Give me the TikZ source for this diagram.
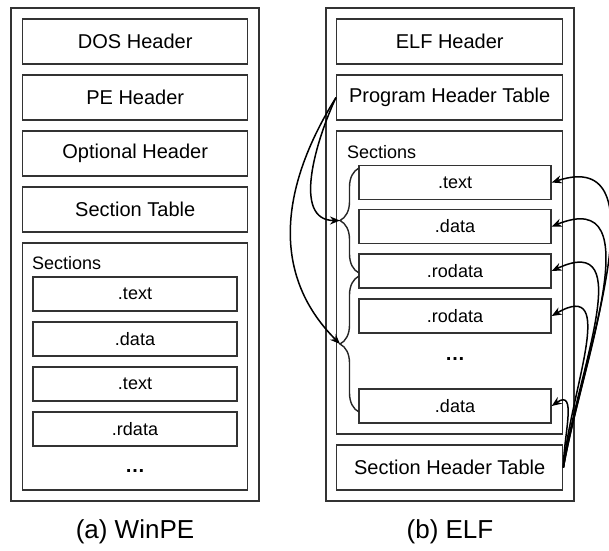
\documentclass[tikz,border=0pt]{standalone}
\usepackage{fontspec}
\setmainfont{Liberation Sans}
\usetikzlibrary{arrows.meta, decorations.pathreplacing}

\begin{document}
\begin{tikzpicture}[x=1pt, y=-1pt,
  frame/.style={draw=black!80, line width=1.4pt, rectangle, inner sep=0pt},
  hdr/.style={frame, minimum height=45pt, font=\fontsize{20}{24}\selectfont},
  sec/.style={frame, minimum height=34pt, font=\fontsize{18}{22}\selectfont},
  lbl/.style={font=\fontsize{18}{22}\selectfont, inner sep=0pt},
  dots/.style={font=\fontsize{20}{24}\selectfont\bfseries, inner sep=0pt},
  figcap/.style={font=\fontsize{26}{30}\selectfont, inner sep=0pt},
  link/.style={line width=1.5pt, -{Stealth[length=10pt,width=8pt]}},
  grp/.style={draw=black!85, line width=1.4pt, decorate, decoration={brace, amplitude=19pt}}
]
\useasboundingbox (0,0) rectangle (609,550);

% ---------- WinPE layout ----------
\node[frame, minimum width=248pt, minimum height=493pt] (pe) at (135,254.5) {};
\node[hdr, minimum width=225pt] (dos) at (135.2,41.5) {DOS Header};
\node[hdr, minimum width=225pt] (peh) at (135.2,97.5) {PE Header};
\node[hdr, minimum width=225pt] (opt) at (135.2,153.5) {Optional Header};
\node[hdr, minimum width=225pt] (st) at (135.2,209.5) {Section Table};
\node[frame, minimum width=225pt, minimum height=247pt] (pesec) at (135.2,366.5) {};
\node[lbl, anchor=base west] (pesecl) at (32,269.5) {Sections};
\node[sec, minimum width=204pt] (pa) at (135,294) {.text};
\node[sec, minimum width=204pt] (pb) at (135,339) {.data};
\node[sec, minimum width=204pt] (pc) at (135,384) {.text};
\node[sec, minimum width=204pt] (pd) at (135,429) {.rdata};
\node[dots] (pdots) at (135,471) {\ldots};
\node[figcap] (capa) at (135,532) {(a) WinPE};

% ---------- ELF layout ----------
\node[frame, minimum width=248pt, minimum height=493pt] (elf) at (450,254.5) {};
\node[hdr, minimum width=226pt] (eh) at (449.7,41.5) {ELF Header};
\node[hdr, minimum width=226pt] (pht) at (449.7,97.5) {Program Header Table};
\node[frame, minimum width=226pt, minimum height=303pt] (esec) at (449.7,282.5) {};
\node[lbl, anchor=base west] (esecl) at (347,158) {Sections};
\node[hdr, minimum width=226pt] (sht) at (449.7,467.5) {Section Header Table};
\node[sec, minimum width=192pt] (ea) at (455,182.5) {.text};
\node[sec, minimum width=192pt] (eb) at (455,226.5) {.data};
\node[sec, minimum width=192pt] (ec) at (455,271) {.rodata};
\node[sec, minimum width=192pt] (ed) at (455,316) {.rodata};
\node[dots] (edots) at (455,359) {\ldots};
\node[sec, minimum width=192pt] (ee) at (455,406) {.data};
\node[figcap] (capb) at (450,532) {(b) ELF};

% segments grouped by the program header table
\draw[grp] (359,273) -- (359,168);
\draw[grp] (359,412) -- (359,276);
\coordinate (g1) at (340,220.5);
\coordinate (g2) at (340,344);

\draw[link] (pht.west) to[out=245, in=180, looseness=1.0] (g1);
\draw[link] (pht.west) to[out=238, in=135, looseness=1.05] (g2);

% section header table entries
\draw[link] (sht.east) to[out=80, in=18, looseness=1.05] (ea.east);
\draw[link] (sht.east) to[out=80, in=22, looseness=1.15] (eb.east);
\draw[link] (sht.east) to[out=82, in=25, looseness=1.25] (ec.east);
\draw[link] (sht.east) to[out=85, in=30, looseness=1.3] (ed.east);
\draw[link] (sht.east) to[out=90, in=35, looseness=1.3] (ee.east);
\end{tikzpicture}
\end{document}
